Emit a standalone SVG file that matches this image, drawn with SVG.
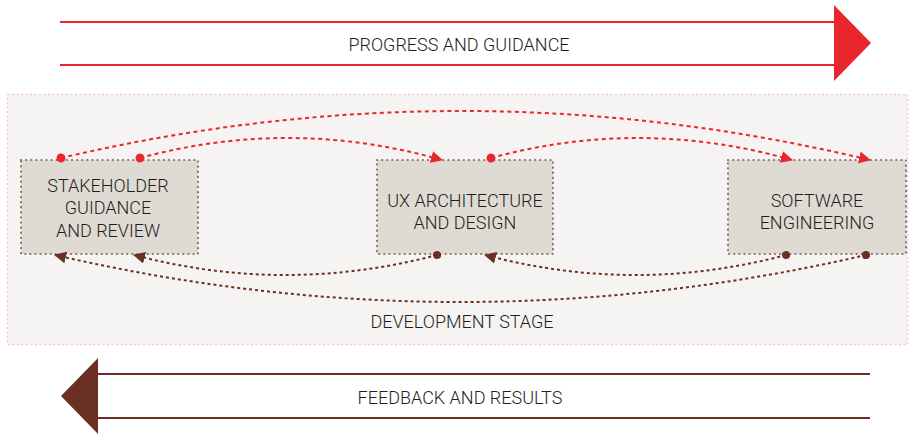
<svg xmlns="http://www.w3.org/2000/svg" width="910" height="434" viewBox="0 0 910 434">
<style>
.t{font-family:Roboto,"Liberation Sans",sans-serif;font-size:18px;fill:#1e1e1e;text-anchor:middle;font-weight:300}
.node{fill:#dfdbd3;stroke:#8d6e66;stroke-width:2.2;stroke-dasharray:0.1 5;stroke-linecap:round}
.red{fill:none;stroke:#e8262b;stroke-width:2;stroke-dasharray:4 3.5}
.brn{fill:none;stroke:#6b3024;stroke-width:2;stroke-dasharray:3 3}
</style>
<defs>
<marker id="ra" markerUnits="userSpaceOnUse" markerWidth="14" markerHeight="14" refX="11" refY="6" orient="auto"><path d="M0,0 L12,6 L0,12 Z" fill="#e8262b"/></marker>
<marker id="rd" markerUnits="userSpaceOnUse" markerWidth="12" markerHeight="12" refX="5" refY="5" orient="auto"><circle cx="5" cy="5" r="4.5" fill="#e8262b"/></marker>
<marker id="ba" markerUnits="userSpaceOnUse" markerWidth="14" markerHeight="14" refX="11" refY="6" orient="auto"><path d="M0,0 L12,6 L0,12 Z" fill="#6b3024"/></marker>
<marker id="bd" markerUnits="userSpaceOnUse" markerWidth="12" markerHeight="12" refX="5" refY="5" orient="auto"><circle cx="5" cy="5" r="4" fill="#6b3024"/></marker>
</defs>
<g id="progress">
<line x1="60" y1="22" x2="835" y2="22" stroke="#e8262b" stroke-width="2"/>
<line x1="60" y1="65" x2="835" y2="65" stroke="#e8262b" stroke-width="2"/>
<polygon points="834,5 871,43 834,81" fill="#e8262b"/>
<text class="t" x="459" y="51">PROGRESS AND GUIDANCE</text>
</g>
<g id="stage">
<rect x="7.5" y="94.5" width="900" height="250" fill="#f6f4f2" stroke="#f6c9c6" stroke-width="1.5" stroke-dasharray="2 2.5"/>
<text class="t" x="462" y="328">DEVELOPMENT STAGE</text>
</g>
<g id="stakeholder">
<rect class="node" x="21" y="160" width="177" height="94"/>
<text class="t" x="108" y="192">STAKEHOLDER</text>
<text class="t" x="108" y="214">GUIDANCE</text>
<text class="t" x="108" y="237">AND REVIEW</text>
</g>
<g id="ux">
<rect class="node" x="377" y="160" width="176" height="94"/>
<text class="t" x="465" y="207">UX ARCHITECTURE</text>
<text class="t" x="465" y="229">AND DESIGN</text>
</g>
<g id="software">
<rect class="node" x="728" y="160" width="178" height="94"/>
<text class="t" x="817" y="207">SOFTWARE</text>
<text class="t" x="817" y="229">ENGINEERING</text>
</g>
<g id="connectors">
<path class="red" d="M61,158 Q465,63 870,160" marker-start="url(#rd)" marker-end="url(#ra)"/>
<path class="red" d="M140,158 Q291,117 442,160" marker-start="url(#rd)" marker-end="url(#ra)"/>
<path class="red" d="M491,158 Q641,117 792,160" marker-start="url(#rd)" marker-end="url(#ra)"/>
<path class="brn" d="M437,255 Q285,295 134,255" marker-start="url(#bd)" marker-end="url(#ba)"/>
<path class="brn" d="M786,255 Q635,295 485,255" marker-start="url(#bd)" marker-end="url(#ba)"/>
<path class="brn" d="M866,255 Q460,349 55,255" marker-start="url(#bd)" marker-end="url(#ba)"/>
</g>
<g id="feedback">
<line x1="97" y1="374" x2="870" y2="374" stroke="#6b3024" stroke-width="2"/>
<line x1="97" y1="418" x2="870" y2="418" stroke="#6b3024" stroke-width="2"/>
<polygon points="98,358 61,396 98,434" fill="#6b3024"/>
<text class="t" x="460" y="404">FEEDBACK AND RESULTS</text>
</g>
</svg>
